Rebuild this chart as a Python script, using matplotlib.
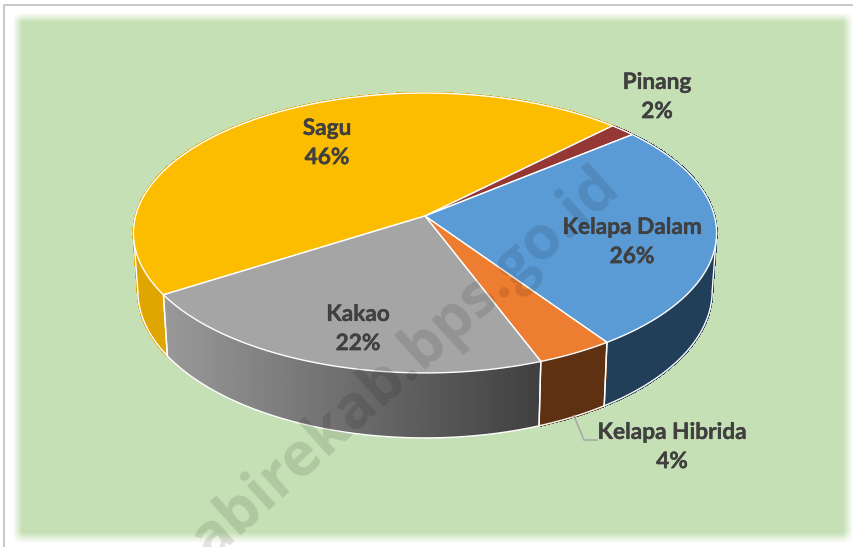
import numpy as np
import matplotlib
matplotlib.use("Agg")
import matplotlib.pyplot as plt
import matplotlib.patheffects as pe
from matplotlib.collections import PolyCollection
from matplotlib.patches import Polygon

# values
categories = ["Sagu", "Pinang", "Kelapa Dalam", "Kelapa Hibrida", "Kakao"]
values = [46.4, 1.6, 26.4, 3.8, 21.8]

top_colors = ["#FCBD00", "#953735", "#5B9BD5", "#ED7D31", "#A5A5A5"]
side_colors = ["#DFA500", "#6E2624", "#223F59", "#5F3113", None]
label_pos = [(327, 143), (657, 97), (632, 242), (672, 447), (358, 329)]

W, H = 854, 547
start = 212.3  # degrees, slices run clockwise
k = 0.1213  # perspective of the pie top

def project(theta):
    u, v = np.cos(theta), np.sin(theta)
    w = 1 / (1 + k * v)
    return 425 + 289.4 * u * w, 216 - 137.9 * v * w

def lower(x, y):
    # bottom face of the pie, slightly smaller and further down
    return 425 + 0.985 * (x - 425), 438 + 1.05 * (y - 373)

fig = plt.figure(figsize=(W / 100, H / 100), dpi=100)
ax = fig.add_axes([0, 0, 1, 1])
ax.axis("off")

# green panel with soft edges
xx, yy = np.meshgrid(np.arange(W) + 0.5, np.arange(H) + 0.5)
mask = np.clip((xx - 13) / 9, 0, 1) * np.clip((yy - 13) / 9, 0, 1)
mask = mask * np.clip((853 - xx) / 10, 0, 1) * np.clip((543 - yy) / 11, 0, 1)
bg = np.ones((H, W, 3))
for c, chan in enumerate((0xC5, 0xE0, 0xB4)):
    bg[..., c] = 1 - mask * (1 - chan / 255)
ax.imshow(bg, extent=(0, W, H, 0), aspect="auto", zorder=0)
ax.plot([4.5, 4.5, W], [H, 4.5, 4.5], color="#BFBFBF", lw=1.2, zorder=1)

edges = start - np.cumsum([0] + values) * 3.6

ring = np.radians(np.linspace(0, 360, 1441))
rx, ry = project(ring)
rbx, rby = lower(rx, ry)
cut_y = rby[np.argmin(rbx)]  # above this the bottom edge is behind the side

# sides first, back slices get hidden by the top face
for i in range(len(values)):
    th = np.radians(np.linspace(edges[i], edges[i + 1], 200))
    x, y = project(th)
    bx, by = lower(x, y)
    if side_colors[i] is None:
        pts = np.column_stack([np.r_[x, bx[::-1]], np.r_[y, by[::-1]]])
        poly = Polygon(pts, closed=True, facecolor="none", edgecolor="none", zorder=2)
        ax.add_patch(poly)
        grad = np.linspace(0.60, 0.25, 256).reshape(1, -1)
        im = ax.imshow(grad, extent=(165, 542, 440, 290), cmap="gray", vmin=0, vmax=1,
                       aspect="auto", zorder=2)
        im.set_clip_path(poly)
    else:
        # small quads so the part round the left/right tangent is covered too
        quads = [[(x[j], y[j]), (x[j + 1], y[j + 1]), (bx[j + 1], by[j + 1]), (bx[j], by[j])]
                 for j in range(len(x) - 1)]
        ax.add_collection(PolyCollection(quads, facecolors=side_colors[i], edgecolors=side_colors[i],
                                         linewidths=1, antialiaseds=False, zorder=2))
    ax.plot(np.where(by >= cut_y, bx, np.nan), by, color="white", lw=1, zorder=3)
    for e in (0, -1):
        ax.plot([x[e], bx[e]], [y[e], by[e]], color="white", lw=1, zorder=3)

# white outline where the side leaves the top face
for ext in (np.argmin, np.argmax):
    a, b = ext(rx), ext(rbx)
    ax.plot([rx[a], rbx[b]], [ry[a], rby[b]], color="white", lw=1, zorder=3)

# top face
for i in range(len(values)):
    th = np.radians(np.linspace(edges[i], edges[i + 1], 300))
    x, y = project(th)
    pts = np.column_stack([np.r_[425, x], np.r_[216, y]])
    ax.add_patch(Polygon(pts, closed=True, facecolor=top_colors[i], edgecolor="white",
                         lw=1, joinstyle="round", zorder=4))

# leader line of the small slice
ax.plot([574, 584, 597], [416, 440, 440], color="#A9A9A9", lw=1.2, zorder=5)

for name, val, pos in zip(categories, values, label_pos):
    t = ax.text(pos[0], pos[1], f"{name}\n{val:.0f}%", ha="center", va="center",
                family="Lato", weight="bold", fontsize=16.3, color="#404040",
                linespacing=1.48, zorder=6)
    t.set_path_effects([pe.withStroke(linewidth=0.25, foreground="#404040")])

# site watermark
ax.text(406, 364, "abirekab.bps.go.id", ha="center", va="center", rotation=42,
        rotation_mode="anchor", family="Open Sans", weight="bold", fontsize=43.5,
        color="black", alpha=0.11, zorder=7)

ax.set_xlim(0, W)
ax.set_ylim(H, 0)
fig.savefig("out.png", dpi=100)
